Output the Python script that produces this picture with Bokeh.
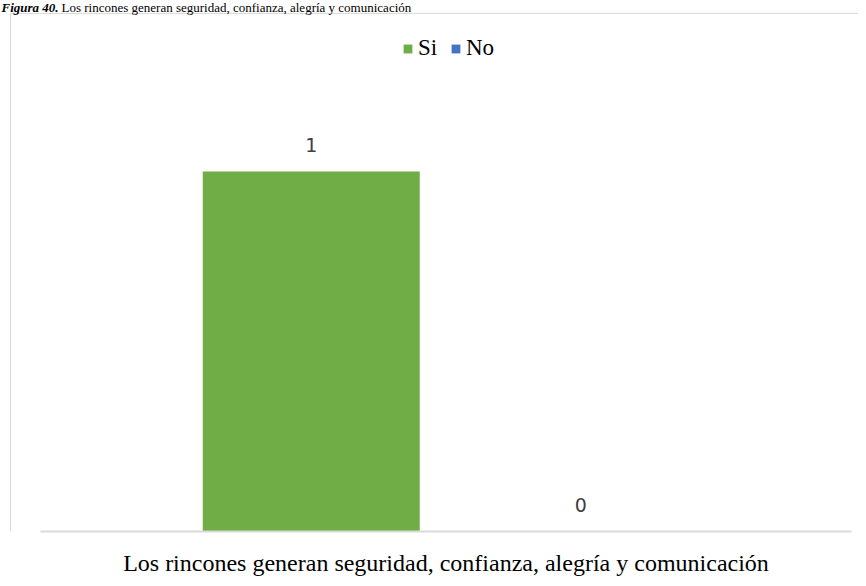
from bokeh.plotting import figure
from bokeh.models import (ColumnDataSource, Range1d, LinearAxis, FixedTicker,
                          Legend, LegendItem, Label)
from bokeh.transform import dodge
from bokeh.core.properties import value
from bokeh.embed import file_html
from bokeh.resources import INLINE

# ---- data ----
categories = ["Los rincones generan seguridad, confianza, alegría y comunicación"]
series_names = ["Si", "No"]
si_values = [1]
no_values = [0]
title_bold = "Figura 40."
title_rest = "Los rincones generan seguridad, confianza, alegría y comunicación"

# ---- layout constants (pixels, figure coords) ----
W, H = 858, 578
FRAME_B = 534                      # frame covers 0..W, 0..FRAME_B
BORDER_X, BORDER_Y = 10, 13        # chart border (left / top)
AREA_L, AREA_R = 40, 851           # category plot area (axis line extent)
cat_px = AREA_R - AREA_L
center_px = (AREA_L + AREA_R) / 2
x_start = (0 - center_px) / cat_px
x_end = (W - center_px) / cat_px
px_per_unit = 362.0
y_end = FRAME_B / px_per_unit

BAR_W = 217 / cat_px
OFFSET = 134.75 / cat_px
GREEN = "#70AD47"
BLUE = "#4472C4"
GRID = "#d9d9d9"

p = figure(width=W, height=H, output_backend="svg", toolbar_location=None,
           x_axis_type=None, y_axis_type=None,
           x_range=Range1d(x_start, x_end), y_range=Range1d(0, y_end),
           min_border_left=0, min_border_right=0,
           min_border_top=0, min_border_bottom=H - FRAME_B)
p.outline_line_color = None
p.xgrid.visible = False
p.ygrid.visible = False
p.background_fill_color = "white"
p.border_fill_color = "white"

# chart border lines (left and top), in data units derived from layout
bx = x_start + BORDER_X / cat_px
by = (FRAME_B - BORDER_Y) / px_per_unit
p.segment(x0=[bx, bx], y0=[0, by], x1=[bx, x_end], y1=[by, by],
          line_color=GRID, line_width=1)

xs = list(range(len(categories)))
src_si = ColumnDataSource(dict(x=xs, v=si_values, t=[str(v) for v in si_values]))
src_no = ColumnDataSource(dict(x=xs, v=no_values, t=[str(v) for v in no_values]))

r_si = p.vbar(x=dodge("x", -OFFSET, range=p.x_range), top="v", width=BAR_W,
              source=src_si, fill_color=GREEN, line_color=None)
r_no = p.vbar(x=dodge("x", OFFSET, range=p.x_range), top="v", width=BAR_W,
              source=src_no, fill_color=BLUE, line_color=None)

for src, off in ((src_si, -OFFSET), (src_no, OFFSET)):
    p.text(x=dodge("x", off, range=p.x_range), y="v", text="t", source=src,
           text_align="center", text_baseline="alphabetic", y_offset=-27,
           text_font=value("DejaVu Sans"), text_font_size="19px",
           text_color="#404040")

# category axis below
xaxis = LinearAxis(ticker=FixedTicker(ticks=xs),
                   major_label_overrides={i: c for i, c in enumerate(categories)},
                   bounds=(-0.5, 0.5))
xaxis.axis_line_color = GRID
xaxis.axis_line_width = 2
xaxis.major_tick_line_color = None
xaxis.minor_tick_line_color = None
xaxis.major_tick_out = 0
xaxis.minor_tick_out = 0
xaxis.major_label_standoff = 18
xaxis.major_label_text_font = "Liberation Serif"
xaxis.major_label_text_font_size = "24px"
xaxis.major_label_text_color = "#000000"
p.add_layout(xaxis, "below")

legend = Legend(items=[LegendItem(label=series_names[0], renderers=[r_si]),
                       LegendItem(label=series_names[1], renderers=[r_no])],
                orientation="horizontal", location=(402, 470),
                padding=0, margin=0, spacing=12, label_standoff=5,
                glyph_width=11, glyph_height=11,
                label_text_font="Liberation Serif", label_text_font_size="23px",
                label_text_color="#000000", border_line_color=None,
                background_fill_alpha=0)
p.add_layout(legend, "center")

p.add_layout(Label(x=1, y=FRAME_B - 2, x_units="screen", y_units="screen",
                   text=title_bold, text_font="Liberation Serif",
                   text_font_size="13px", text_font_style="bold italic",
                   text_color="#000000", text_baseline="top"))
p.add_layout(Label(x=61, y=FRAME_B - 2, x_units="screen", y_units="screen",
                   text=title_rest, text_font="Liberation Serif",
                   text_font_size="13px", text_color="#000000",
                   text_baseline="top"))

open("out.html", "w").write(file_html(p, INLINE))
